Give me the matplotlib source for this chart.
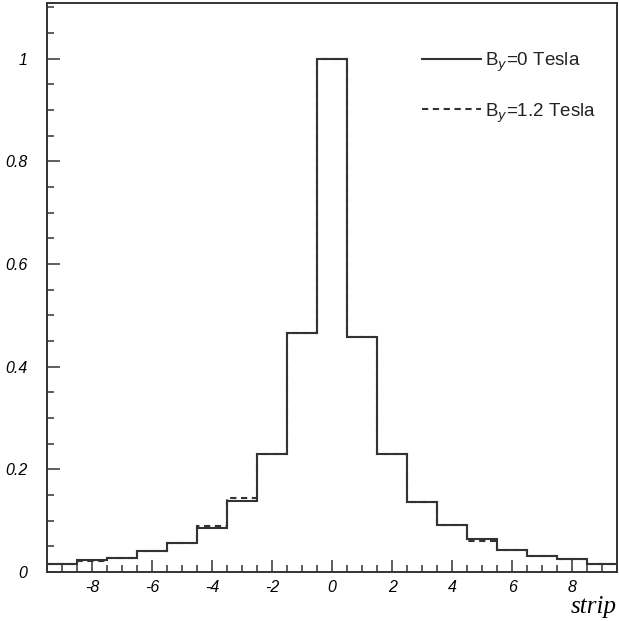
import numpy as np
import matplotlib
matplotlib.use("Agg")
import matplotlib.pyplot as plt
from matplotlib.ticker import MultipleLocator

# bin centres -9 .. 9 (strip offset), width 1
strips = np.arange(-9, 10)
edges = np.arange(-9.5, 10.0, 1.0)

# B=0 Tesla (solid)
b0 = [0.016, 0.023, 0.028, 0.040, 0.057, 0.086, 0.138, 0.229, 0.466, 1.000,
      0.458, 0.229, 0.137, 0.092, 0.064, 0.042, 0.031, 0.026, 0.016]
# B=1.2 Tesla (dashed)
b12 = [0.016, 0.021, 0.028, 0.040, 0.057, 0.089, 0.144, 0.229, 0.466, 1.000,
       0.458, 0.229, 0.137, 0.092, 0.061, 0.043, 0.031, 0.025, 0.016]

col = "#333333"

fig = plt.figure(figsize=(6.19, 6.21), dpi=100)
ax = fig.add_axes([0.076, 0.079, 0.921, 0.916])

ax.stairs(b0, edges, baseline=None, color=col, lw=1.5, ls="-")
ax.stairs(b12, edges, baseline=None, color=col, lw=1.5, ls=(0, (3, 2.2)))

ax.set_xlim(-9.5, 9.5)
ax.set_ylim(0, 1.108)

ax.xaxis.set_major_locator(MultipleLocator(2))
ax.xaxis.set_minor_locator(MultipleLocator(0.5))
ax.yaxis.set_major_locator(MultipleLocator(0.2))
ax.yaxis.set_minor_locator(MultipleLocator(0.05))
ax.tick_params(which="both", direction="in", color=col, width=1.1,
               top=False, right=False)
ax.tick_params(which="major", length=9)
ax.tick_params(which="minor", length=5)
ax.tick_params(axis="y", pad=14)
ax.tick_params(axis="x", pad=6)

tick_font = dict(family="Liberation Sans", style="italic", size=11.5)
xt = np.arange(-8, 9, 2)
ax.set_xticks(xt)
ax.set_xticklabels([str(v) for v in xt], **tick_font)
yt = [0, 0.2, 0.4, 0.6, 0.8, 1.0]
ax.set_yticks(yt)
ax.set_yticklabels(["0", "0.2", "0.4", "0.6", "0.8", "1"], **tick_font)

for s in ax.spines.values():
    s.set_color(col)
    s.set_linewidth(1.4)

ax.set_xlabel("strip", family="Liberation Serif", style="italic", size=18)
ax.xaxis.set_label_coords(1.0, -0.043)
ax.xaxis.label.set_horizontalalignment("right")

# legend drawn by hand, as in the original
leg_y = [1.0, 0.902]
ax.plot([2.98, 4.97], [leg_y[0], leg_y[0]], color=col, lw=1.5)
ax.plot([2.98, 4.97], [leg_y[1], leg_y[1]], color=col, lw=1.5, ls=(0, (3, 2.2)))
ax.text(5.1, leg_y[0] - 0.008, "B$_y$=0 Tesla", family="Liberation Sans",
        size=13.5, va="center", ha="left", color="#222222")
ax.text(5.1, leg_y[1] - 0.008, "B$_y$=1.2 Tesla", family="Liberation Sans",
        size=13.5, va="center", ha="left", color="#222222")

fig.savefig("out.png", dpi=100)
